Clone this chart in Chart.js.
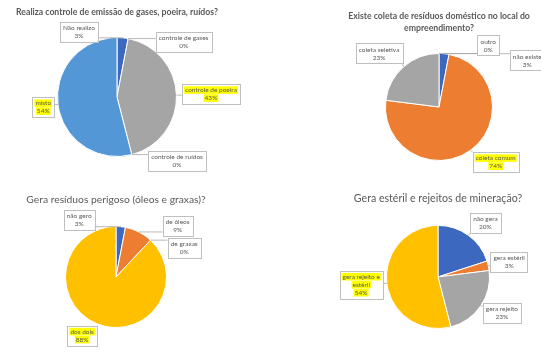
<!DOCTYPE html>
<html>
<head>
<meta charset="utf-8">
<script src="https://cdn.jsdelivr.net/npm/chart.js@4/dist/chart.umd.min.js"></script>
<style>
  html, body { margin: 0; padding: 0; background: #fff; }
  #page { position: relative; width: 541px; height: 360px; overflow: hidden; background: #fff; }
  canvas { position: absolute; }
</style>
</head>
<body>
<div id="page">
  <canvas id="g1" style="left:-36px;top:0px" width="306" height="180"></canvas>
  <canvas id="g2" style="left:337px;top:0px" width="204" height="180"></canvas>
  <canvas id="g3" style="left:0px;top:180px" width="232" height="180"></canvas>
  <canvas id="g4" style="left:335px;top:180px" width="206" height="180"></canvas>
</div>
<script>
// Dados dos quatro gráficos
const titulo1 = 'Realiza controle de emissão de gases, poeira, ruídos?';
const cats1 = ['Não realizo', 'controle de gases', 'controle de poeira', 'controle de ruídos', 'misto'];
const vals1 = [3, 0, 43, 0, 54];

const titulo2 = ['Existe coleta de resíduos doméstico no local do', 'empreendimento?'];
const cats2 = ['não existe', 'coleta comum', 'coleta seletiva', 'outro'];
const vals2 = [3, 74, 23, 0];

const titulo3 = 'Gera resíduos perigoso (óleos e graxas)?';
const cats3 = ['não gero', 'de óleos', 'de graxas', 'dos dois'];
const vals3 = [3, 9, 0, 88];

const titulo4 = 'Gera estéril e rejeitos de mineração?';
const cats4 = ['não gera', 'gera estéril', 'gera rejeito', ['gera rejeito e', 'estéril']];
const vals4 = [20, 3, 23, 54];

// Cores (paleta do Office)
const azul = '#3D68BF';
const laranja = '#ED7D31';
const cinza = '#A5A5A5';
const amarelo = '#FFC000';
const azulClaro = '#5497D6';
const corTexto = '#595959';

// Plugin dos rótulos com caixa e linha de chamada
const rotulosPlugin = {
    id: 'rotulos',
    afterDatasetsDraw(chart) {
        const cfg = chart.options.plugins.rotulos;
        const ctx = chart.ctx;
        const meta = chart.getDatasetMeta(0);
        const labels = chart.data.labels;
        const values = chart.data.datasets[0].data;
        ctx.save();
        ctx.font = '6.5px Lato';
        meta.data.forEach((arc, i) => {
            const p = arc.getProps(['x', 'y', 'startAngle', 'endAngle', 'outerRadius'], true);
            const mid = (p.startAngle + p.endAngle) / 2;
            const ax = p.x + Math.cos(mid) * p.outerRadius;
            const ay = p.y + Math.sin(mid) * p.outerRadius;
            const pos = cfg.pos[i];
            const bx = p.x + pos[0] * p.outerRadius;
            const by = p.y + pos[1] * p.outerRadius;

            const nome = Array.isArray(labels[i]) ? labels[i] : [labels[i]];
            const linhas = [...nome, values[i] + '%'];
            const lh = 8;
            const larg = Math.max(...linhas.map(t => ctx.measureText(t).width));
            const w = larg + 6, h = linhas.length * lh + 4;
            const x0 = bx - w / 2, y0 = by - h / 2;

            // linha de chamada
            const px = Math.min(Math.max(ax, x0), x0 + w);
            const py = Math.min(Math.max(ay, y0), y0 + h);
            if (Math.hypot(px - ax, py - ay) > 2) {
                ctx.strokeStyle = '#A6A6A6';
                ctx.lineWidth = 0.8;
                ctx.beginPath();
                ctx.moveTo(ax, ay);
                ctx.lineTo(px, py);
                ctx.stroke();
            }

            // caixa
            ctx.fillStyle = '#fff';
            ctx.fillRect(x0, y0, w, h);
            ctx.strokeStyle = '#BFBFBF';
            ctx.lineWidth = 1;
            ctx.strokeRect(Math.round(x0) + 0.5, Math.round(y0) + 0.5, Math.round(w), Math.round(h));

            ctx.textAlign = 'center';
            ctx.textBaseline = 'middle';
            linhas.forEach((t, k) => {
                const ty = y0 + 2 + lh * k + lh / 2;
                if (cfg.destaque[i]) {
                    const tw = ctx.measureText(t).width;
                    ctx.fillStyle = '#FFFF00';
                    ctx.fillRect(bx - tw / 2 - 1, ty - 3.8, tw + 2, 7.6);
                }
                ctx.fillStyle = corTexto;
                ctx.fillText(t, bx, ty);
            });
        });
        ctx.restore();
    }
};

function criaPizza(id, titulo, cats, vals, cores, fonteTitulo, tituloPad, padding, pos, destaque) {
    const el = document.getElementById(id);
    return new Chart(el, {
        type: 'pie',
        data: {
            labels: cats,
            datasets: [{
                data: vals,
                backgroundColor: cores,
                borderColor: '#fff',
                borderWidth: 1,
                hoverOffset: 0,
                offset: 0
            }]
        },
        options: {
            responsive: false,
            animation: false,
            events: [],
            layout: { padding: padding },
            plugins: {
                legend: { display: false },
                tooltip: { enabled: false },
                title: {
                    display: true,
                    text: titulo,
                    color: corTexto,
                    font: fonteTitulo,
                    padding: tituloPad
                },
                rotulos: { pos: pos, destaque: destaque }
            }
        },
        plugins: [rotulosPlugin]
    });
}

criaPizza('g1', titulo1, cats1, vals1, [azul, laranja, cinza, amarelo, azulClaro],
    { family: 'Lato', size: 8.7, weight: 'bold', lineHeight: 1.2 }, { top: 6.8, bottom: 19.8 },
    { left: 0, right: 0, top: 0, bottom: 23 },
    [[-0.64, -1.10], [1.12, -0.92], [1.58, -0.05], [1.01, 1.08], [-1.24, 0.17]],
    [false, false, true, false, true]);

criaPizza('g2', titulo2, cats2, vals2, [azul, laranja, cinza, amarelo],
    { family: 'Lato', size: 8.7, weight: 'bold', lineHeight: 1.4 }, { top: 10.4, bottom: 18.2 },
    { left: 0, right: 0, top: 0, bottom: 19 },
    [[1.65, -0.87], [1.06, 1.03], [-1.12, -1.0], [0.92, -1.15]],
    [false, true, false, false]);

criaPizza('g3', titulo3, cats3, vals3, [azul, laranja, cinza, amarelo],
    { family: 'Lato', size: 10.3, weight: 'normal', lineHeight: 1.2 }, { top: 13.8, bottom: 19.8 },
    { left: 0, right: 0, top: 0, bottom: 32 },
    [[-0.73, -1.12], [1.22, -1.01], [1.35, -0.57], [-0.67, 1.16]],
    [false, false, false, true]);

criaPizza('g4', titulo4, cats4, vals4, [azul, laranja, cinza, amarelo],
    { family: 'Lato', size: 10.6, weight: 'normal', lineHeight: 1.2 }, { top: 12.6, bottom: 19.6 },
    { left: 0, right: 0, top: 0, bottom: 31 },
    [[0.92, -1.04], [1.38, -0.29], [1.24, 0.69], [-1.49, 0.15]],
    [false, false, false, true]);
</script>
</body>
</html>
